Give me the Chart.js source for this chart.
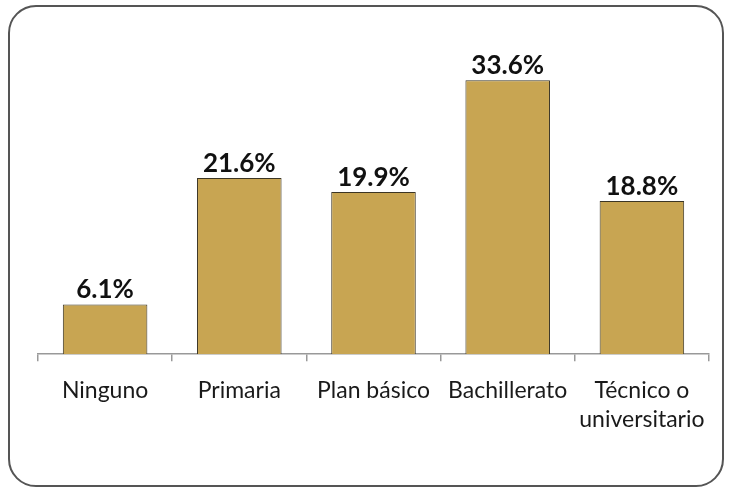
<!DOCTYPE html>
<html>
<head>
<meta charset="utf-8">
<script src="https://cdn.jsdelivr.net/npm/chart.js@4"></script>
<style>
  html, body { margin: 0; padding: 0; background: #fff; }
  #wrap { position: relative; width: 731px; height: 490px; }
  #frame {
    position: absolute; left: 8px; top: 5px; width: 712px; height: 478px;
    border: 2.5px solid #555; border-radius: 28px;
  }
  #chart { position: absolute; left: 0; top: 0; }
</style>
</head>
<body>
<div id="wrap">
  <div id="frame"></div>
  <canvas id="chart" width="731" height="490"></canvas>
</div>
<script>
// education levels and share of people (%)
const categories = ["Ninguno", "Primaria", "Plan básico", "Bachillerato", ["Técnico o", "universitario"]];
const values = [6.1, 21.6, 19.9, 33.6, 18.8];

// draws the percentage over each bar
const valueLabels = {
  id: "valueLabels",
  afterDatasetsDraw(chart) {
    const ctx = chart.ctx;
    const meta = chart.getDatasetMeta(0);
    ctx.save();
    ctx.font = "bold 26px Lato";
    ctx.fillStyle = "#111";
    ctx.textAlign = "center";
    ctx.textBaseline = "alphabetic";
    meta.data.forEach((bar, i) => {
      ctx.fillText(values[i].toFixed(1) + "%", bar.x, bar.y - 6);
    });
    ctx.restore();
  },
};

new Chart(document.getElementById("chart"), {
  type: "bar",
  data: {
    labels: categories,
    datasets: [
      {
        data: values,
        backgroundColor: "#C8A552",
        borderColor: "#3b3524",
        borderWidth: 1,
        categoryPercentage: 0.63,
        barPercentage: 1,
      },
    ],
  },
  options: {
    responsive: false,
    animation: false,
    layout: { padding: { left: 38, right: 22, top: 28, bottom: 41 } },
    plugins: { legend: { display: false }, tooltip: { enabled: false } },
    scales: {
      y: { display: false, min: 0, max: 40 },
      x: {
        grid: { drawOnChartArea: false, color: "#999", tickLength: 7, lineWidth: 1.5 },
        border: { color: "#999", width: 1.5 },
        ticks: { color: "#1a1a1a", font: { family: "Lato", size: 23, lineHeight: 1.3 }, padding: 14, maxRotation: 0, autoSkip: false },
      },
    },
  },
  plugins: [valueLabels],
});
</script>
</body>
</html>
